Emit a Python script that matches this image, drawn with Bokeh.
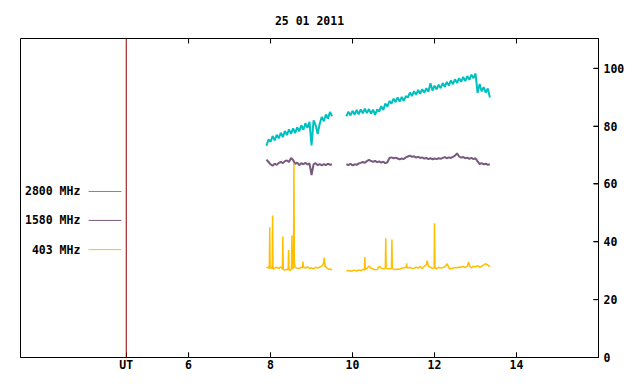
import numpy as np
from bokeh.plotting import figure
from bokeh.models import Range1d, LinearAxis, FixedTicker, Span, Label
from bokeh.core.properties import value
from bokeh.embed import file_html
from bokeh.resources import INLINE

nan = float("nan")

TITLE = "25 01 2011"
X_TICKS = [6, 8, 10, 12, 14]
Y_TICKS = [0, 20, 40, 60, 80, 100]
UT_POS = 4.48
UT_LABEL = "UT"
SERIES_NAMES = ["2800 MHz", "1580 MHz", "403 MHz"]

# time grid (UT hours) for 2800 / 1580 MHz
T_SEG1 = [7.90, 7.95, 8.00, 8.05, 8.10, 8.15, 8.20, 8.25, 8.30, 8.35, 8.40, 8.45,
          8.50, 8.55, 8.60, 8.65, 8.70, 8.75, 8.80, 8.85, 8.90, 8.95, 9.00, 9.05,
          9.10, 9.15, 9.20, 9.25, 9.30, 9.35, 9.40, 9.45, 9.50]
T_GAP = [9.70]
T_SEG2 = [9.85, 9.90, 9.95,
          10.00, 10.05, 10.10, 10.15, 10.20, 10.25, 10.30, 10.35, 10.40, 10.45,
          10.50, 10.55, 10.60, 10.65, 10.70, 10.75, 10.80, 10.85, 10.90, 10.95,
          11.00, 11.05, 11.10, 11.15, 11.20, 11.25, 11.30, 11.35, 11.40, 11.45,
          11.50, 11.55, 11.60, 11.65, 11.70, 11.75, 11.80, 11.85, 11.90, 11.95,
          12.00, 12.05, 12.10, 12.15, 12.20, 12.25, 12.30, 12.35, 12.40, 12.45,
          12.50, 12.55, 12.60, 12.65, 12.70, 12.75, 12.80, 12.85, 12.90, 12.95,
          13.00, 13.05, 13.10, 13.15, 13.20, 13.25, 13.30, 13.35]

F2800_SEG1 = [73.2, 75.4, 74.6, 76.6, 75.1, 77.0, 75.8, 77.7, 76.2, 78.3, 76.9, 78.9,
              77.3, 79.2, 77.6, 79.6, 78.2, 80.3, 78.7, 81.0, 79.4, 81.5, 73.3, 82.0,
              80.3, 77.3, 80.9, 83.2, 81.7, 84.0, 82.6, 84.9, 83.4]
F2800_SEG2 = [83.4, 85.0, 83.7,
              85.3, 84.0, 85.6, 84.1, 85.8, 84.4, 86.0, 84.5, 85.9, 84.3,
              85.7, 83.9, 85.8, 85.0, 86.9, 85.6, 87.8, 86.7, 88.7, 87.8,
              89.5, 88.3, 89.9, 88.5, 90.1, 88.7, 90.4, 89.9, 91.6, 90.4,
              92.1, 90.8, 92.5, 91.2, 92.8, 91.5, 93.1, 91.9, 94.8, 92.3,
              94.0, 92.7, 94.3, 93.1, 94.9, 93.6, 95.3, 94.0, 95.8, 94.5,
              96.2, 94.9, 96.6, 95.3, 97.0, 95.6, 97.3, 96.0, 97.8, 96.6,
              98.2, 91.5, 94.6, 92.0, 93.5, 91.6, 93.0, 89.9]

F1580_SEG1 = [68.4, 67.6, 66.8, 66.3, 67.0, 66.6, 67.3, 67.6, 67.2, 67.9, 68.1, 67.6,
              69.0, 68.3, 66.9, 67.4, 66.5, 67.2, 66.8, 67.3, 66.7, 67.1, 63.1, 66.8,
              67.2, 66.5, 66.9, 66.4, 66.9, 66.5, 67.0, 66.6, 66.8]
F1580_SEG2 = [66.9, 66.5, 67.0,
              66.4, 66.8, 66.6, 67.1, 67.3, 67.6, 67.3, 67.9, 68.3, 68.0,
              67.6, 68.0, 67.5, 67.8, 67.4, 67.7, 67.2, 67.5, 69.0, 69.2,
              68.9, 69.1, 68.8, 68.5, 68.8, 68.6, 69.2, 69.5, 69.8, 69.4,
              69.6, 69.1, 69.4, 69.0, 69.2, 68.8, 69.0, 68.6, 68.9, 68.5,
              68.8, 68.6, 68.9, 68.7, 69.0, 69.3, 68.9, 69.2, 69.0, 69.4,
              69.8, 70.6, 69.5, 69.1, 69.3, 68.9, 69.1, 68.7, 69.0, 68.6,
              68.9, 67.8, 66.9, 67.2, 66.8, 67.0, 66.6, 66.8]

# 403 MHz has its own (finer near bursts) time stamps
T403 = [7.90, 7.94, 7.97, 7.98, 7.99, 8.02, 8.04, 8.05, 8.06, 8.10, 8.15, 8.20,
        8.25, 8.29, 8.30, 8.31, 8.35, 8.39, 8.43, 8.44, 8.45, 8.48, 8.51, 8.52,
        8.53, 8.56, 8.57, 8.58, 8.60, 8.65, 8.70, 8.75, 8.78, 8.79, 8.80, 8.85,
        8.90, 8.95, 9.00, 9.05, 9.10, 9.15, 9.20, 9.25, 9.29, 9.31, 9.33, 9.38,
        9.42, 9.46, 9.50,
        9.70,
        9.85, 9.90, 9.95, 10.00, 10.05, 10.10, 10.15, 10.20, 10.25, 10.29, 10.30,
        10.31, 10.35, 10.40, 10.45, 10.50, 10.55, 10.60, 10.65, 10.70, 10.75, 10.80,
        10.81, 10.82, 10.88, 10.95, 10.96, 10.97, 11.00, 11.05, 11.10, 11.15, 11.20,
        11.25, 11.31, 11.32, 11.33, 11.40, 11.45, 11.50, 11.55, 11.60, 11.65, 11.70,
        11.75, 11.80, 11.82, 11.85, 11.90, 11.95, 11.99, 12.00, 12.01, 12.05, 12.10,
        12.15, 12.20, 12.25, 12.31, 12.35, 12.40, 12.45, 12.50, 12.55, 12.60, 12.65,
        12.70, 12.75, 12.80, 12.83, 12.86, 12.90, 12.95, 13.00, 13.05, 13.10, 13.15,
        13.20, 13.24, 13.30, 13.35]
F403 = [31.0, 31.3, 30.8, 45.0, 30.9, 31.1, 30.7, 49.1, 30.6, 30.9, 31.2, 30.8,
        31.3, 30.6, 41.8, 30.5, 30.2, 30.5, 30.3, 37.2, 30.4, 30.1, 30.6, 42.2,
        30.8, 30.9, 67.1, 33.5, 31.2, 30.9, 30.8, 31.2, 31.0, 33.2, 31.4, 30.9,
        31.3, 30.8, 31.0, 30.7, 31.2, 30.9, 31.3, 31.6, 32.4, 34.5, 31.5, 30.9,
        30.5, 30.6, 30.2,
        nan,
        29.9, 30.1, 29.8, 30.0, 30.2, 29.9, 30.3, 30.1, 30.4, 30.2, 34.7,
        30.5, 30.8, 31.6, 30.9, 30.6, 30.3, 30.4, 31.5, 30.9, 30.7, 30.8,
        41.2, 30.9, 30.6, 30.8, 40.8, 31.0, 30.5, 30.4, 30.6, 30.5, 30.9,
        31.0, 31.2, 32.6, 31.0, 31.1, 30.8, 30.9, 31.2, 30.9, 31.4, 30.8,
        31.6, 32.0, 33.5, 31.5, 31.2, 30.8, 30.9, 46.4, 31.0, 30.7, 31.2,
        30.9, 31.1, 31.3, 32.4, 31.0, 30.6, 30.9, 31.1, 31.0, 31.3, 31.2,
        31.5, 31.1, 31.6, 33.0, 31.4, 31.0, 31.6, 31.3, 31.8, 31.2, 31.6,
        32.0, 32.4, 32.0, 31.3]

T = T_SEG1 + T_GAP + T_SEG2
F2800 = F2800_SEG1 + [nan] + F2800_SEG2
F1580 = F1580_SEG1 + [nan] + F1580_SEG2

COLORS = ["#00bfbf", "#785a7e", "#ffbf00"]
FONT = "DejaVu Sans Mono"
FS = "11.5px"

X0, X1 = 1.9, 16.0
Y0, Y1 = 0.0, 110.3

p = figure(width=632, height=376, x_range=Range1d(X0, X1), y_range=Range1d(Y0, Y1),
           output_backend="svg", toolbar_location=None, y_axis_location="right",
           min_border_left=20, min_border_right=34, min_border_top=38, min_border_bottom=19)
p.background_fill_color = "white"
p.border_fill_color = "white"
p.outline_line_color = "black"
p.outline_line_width = 1
p.outline_line_alpha = 1
p.xgrid.visible = False
p.ygrid.visible = False

p.title.text = TITLE
p.title.align = "center"
p.title.text_font = FONT
p.title.text_font_size = FS
p.title.text_font_style = "bold"
p.title.text_color = "black"
p.title.standoff = 21

def style_axis(ax):
    ax.major_tick_in = 5
    ax.major_tick_out = 0
    ax.minor_tick_in = 0
    ax.minor_tick_out = 0
    ax.major_tick_line_color = "black"
    ax.major_tick_line_width = 1
    ax.axis_line_color = "black"
    ax.major_label_text_font = FONT
    ax.major_label_text_font_size = FS
    ax.major_label_text_font_style = "bold"
    ax.major_label_text_color = "black"

xa = p.xaxis[0]
xa.ticker = FixedTicker(ticks=[UT_POS] + X_TICKS)
xa.major_label_overrides = {UT_POS: UT_LABEL}
style_axis(xa)
xa.major_label_standoff = 0

ya = p.yaxis[0]
ya.ticker = FixedTicker(ticks=Y_TICKS)
style_axis(ya)
ya.major_label_standoff = 5

# explicit inward tick marks (bottom, top, right), from the tick arrays
tick_dx = 5 * (X1 - X0) / 578.0
tick_dy = 5 * (Y1 - Y0) / 319.0
p.segment(x0=X_TICKS, y0=[Y0] * len(X_TICKS), x1=X_TICKS, y1=[Y0 + tick_dy] * len(X_TICKS),
          line_color="black", line_width=1)
p.segment(x0=X_TICKS, y0=[Y1] * len(X_TICKS), x1=X_TICKS, y1=[Y1 - tick_dy] * len(X_TICKS),
          line_color="black", line_width=1)
p.segment(x0=[X1] * len(Y_TICKS), y0=Y_TICKS, x1=[X1 - tick_dx] * len(Y_TICKS), y1=Y_TICKS,
          line_color="black", line_width=1)

p.add_layout(Span(location=UT_POS, dimension="height", line_color="#8b0000", line_width=1))

p.line(T, F2800, line_color=COLORS[0], line_width=2)
p.line(T, F1580, line_color=COLORS[1], line_width=2)
p.line(T403, F403, line_color=COLORS[2], line_width=1.5)

# key (label left of sample line), placed in data space in the empty left area
key_y = [57.4, 47.4, 37.3]
for name, col, ky in zip(SERIES_NAMES, COLORS, key_y):
    p.add_layout(Label(x=3.36, y=ky, text=name, text_align="right", text_baseline="middle",
                       text_font=FONT, text_font_size=FS, text_font_style="bold", text_color="black"))
    p.segment(x0=[3.56], y0=[ky], x1=[4.36], y1=[ky], line_color=col, line_width=1)

open("out.html", "w").write(file_html(p, INLINE))
